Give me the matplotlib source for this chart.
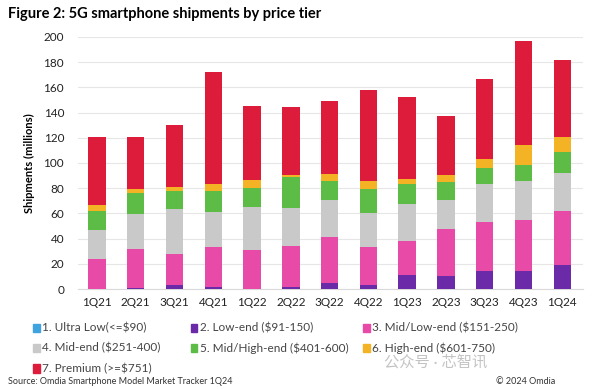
import matplotlib
matplotlib.use("Agg")
import matplotlib.pyplot as plt
import numpy as np
from matplotlib.patches import Rectangle

plt.rcParams["font.family"] = ["Lato", "Noto Sans CJK SC", "DejaVu Sans"]

quarters = ["1Q21", "2Q21", "3Q21", "4Q21", "1Q22", "2Q22", "3Q22",
            "4Q22", "1Q23", "2Q23", "3Q23", "4Q23", "1Q24"]

ultra_low = [0, 0, 0, 0, 0, 0, 0, 0, 0, 0, 0, 0, 0]
low_end = [0, 0.5, 3, 1.5, 0, 2, 5, 3, 11.5, 10, 14, 14, 19]
mid_low = [24, 31, 25, 32, 31, 32.5, 36.5, 30, 27, 38, 39, 41, 43]
mid_end = [23, 28, 35.5, 28, 34, 30, 29.5, 27, 29, 22.5, 30.5, 31, 30]
mid_high = [15, 17, 14, 16.5, 15.5, 24, 15, 19.5, 16, 14.5, 12.5, 12.5, 17]
high_end = [5, 2.5, 3.5, 5, 6, 2, 5, 6.5, 3.5, 5.5, 7, 15.5, 11.5]
premium = [54, 42, 49, 89, 58.5, 54, 58, 72, 65, 46.5, 63.5, 83, 61.5]

tiers = [
    ("1. Ultra Low(<=$90)", ultra_low, "#3fa3e0"),
    ("2. Low-end ($91-150)", low_end, "#6b2aa8"),
    ("3. Mid/Low-end ($151-250)", mid_low, "#e84aa8"),
    ("4. Mid-end ($251-400)", mid_end, "#c9c9c9"),
    ("5. Mid/High-end ($401-600)", mid_high, "#5cbc45"),
    ("6. High-end ($601-750)", high_end, "#f4b325"),
    ("7. Premium (>=$751)", premium, "#dc1c3a"),
]

fig = plt.figure(figsize=(6, 3.89), dpi=100)
ax = fig.add_axes([0.13, 0.257, 0.842, 0.648])

x = np.arange(len(quarters))
bottom = np.zeros(len(quarters))
for label, vals, color in tiers:
    vals = np.array(vals, dtype=float)
    ax.bar(x, vals, 0.45, bottom=bottom, color=color, label=label, zorder=3)
    bottom += vals

ax.set_xlim(-0.49, 12.54)
ax.set_ylim(0, 200)
ax.set_yticks(range(0, 201, 20))
ax.grid(axis="y", color="#e6e6e6", linewidth=0.8, zorder=0)
for s in ["top", "right", "left"]:
    ax.spines[s].set_visible(False)
ax.spines["bottom"].set_color("#d9d9d9")
ax.tick_params(axis="both", length=0, labelsize=8.5, colors="#222222")
ax.tick_params(axis="y", pad=10)
ax.tick_params(axis="x", pad=6)
ax.set_xticks(x)
ax.set_xticklabels(quarters)
ax.set_ylabel("Shipments (millions)", fontsize=8, fontweight="bold", labelpad=6)

fig.text(0.013, 0.965, "Figure 2: 5G smartphone shipments by price tier",
         fontsize=10.5, fontweight="bold", va="center", ha="left")

# legend in three columns, drawn row by row
col_x = [0.055, 0.318, 0.605]
row_y = [0.157, 0.105, 0.053]
for i, (label, vals, color) in enumerate(tiers):
    cx = col_x[i % 3]
    cy = row_y[i // 3]
    fig.patches.append(Rectangle((cx, cy - 0.011), 0.011, 0.022, color=color,
                                 transform=fig.transFigure, figure=fig))
    fig.text(cx + 0.015, cy, label, fontsize=8.5, color="#444444", va="center")

fig.text(0.013, 0.018, "Source: Omdia Smartphone Model Market Tracker 1Q24",
         fontsize=6.5, color="#333333", va="center")
fig.text(0.925, 0.018, "© 2024 Omdia", fontsize=6.5, color="#333333",
         va="center", ha="right")
fig.text(0.64, 0.07, "公众号 · 芯智讯", fontsize=11, color="#b5b5b5",
         va="center", ha="left", alpha=0.8)

fig.savefig("out.png", dpi=100)
